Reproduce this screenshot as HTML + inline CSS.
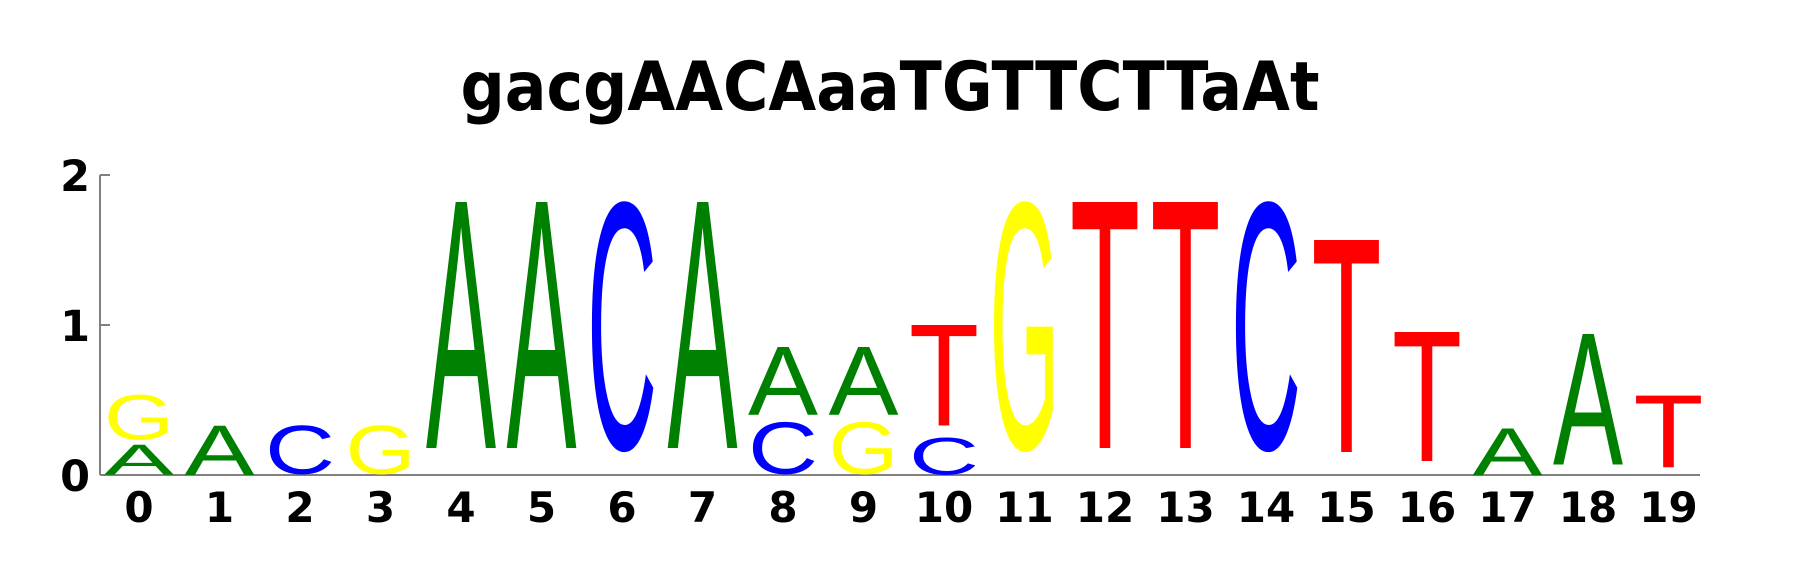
<!DOCTYPE html>
<html><head><meta charset="utf-8"><style>
html,body{margin:0;padding:0;background:#fff;}
svg{display:block;}
</style></head><body>
<svg id="chart" width="1800" height="575" viewBox="0 0 1800 575" xmlns="http://www.w3.org/2000/svg">
<text x="890" y="110" text-anchor="middle" font-family="'DejaVu Sans', 'Liberation Sans', sans-serif" font-weight="bold" font-size="68" textLength="859" lengthAdjust="spacingAndGlyphs">gacgAACAaaTGTTCTTaAt</text>
<g id="axes"></g>
<g id="letters"></g>
</svg>
<script>
const positions = [0,1,2,3,4,5,6,7,8,9,10,11,12,13,14,15,16,17,18,19];
const letterChars = ['A','G','A','C','G','A','A','C','A','C','A','G','A','C','T','G','T','T','C','T','T','A','A','T'];
const letterPos   = [0,0,1,2,3,4,5,6,7,8,8,9,9,10,10,11,12,13,14,15,16,17,18,19];
const letterBottom= [0,0.233,0,0,0,0.18,0.18,0.147,0.18,0,0.4,0,0.4,0,0.33,0.147,0.18,0.18,0.147,0.153,0.093,0,0.07,0.053];
const letterTop   = [0.2,0.533,0.327,0.327,0.327,1.82,1.82,1.82,1.82,0.35,0.85,0.35,0.85,0.25,1.0,1.82,1.82,1.82,1.82,1.567,0.953,0.31,0.94,0.53];
const yTicks = [0,1,2];
const colors = {A:'#008000',C:'#0000ff',G:'#ffff00',T:'#ff0000'};

const NS='http://www.w3.org/2000/svg';
const X = i => 139 + i*80.5;
const Y = v => 475 - v*150;
const axes=document.getElementById('axes');
const lg=document.getElementById('letters');
function mk(tag,attrs,parent){const e=document.createElementNS(NS,tag);for(const k in attrs)e.setAttribute(k,attrs[k]);parent.appendChild(e);return e;}

const ya=mk('line',{x1:100,y1:Y(2),x2:100,y2:Y(0),stroke:'#808080','stroke-width':2},axes);


const xa=mk('line',{x1:100,y1:Y(0),x2:1700,y2:Y(0),stroke:'#808080','stroke-width':2},axes);


yTicks.forEach(t=>{
  const tk=mk('line',{x1:100,y1:Y(t),x2:110,y2:Y(t),stroke:'#808080','stroke-width':2},axes);
  
  
  const tl=mk('text',{x:90,y:Y(t)+16,'text-anchor':'end','font-family':"'DejaVu Sans','Liberation Sans',sans-serif",'font-weight':'bold','font-size':43},axes);
  tl.textContent=String(t);
  
  
});
positions.forEach(p=>{
  const tl=mk('text',{x:X(p),y:522,'text-anchor':'middle','font-family':"'DejaVu Sans','Liberation Sans',sans-serif",'font-weight':'bold','font-size':42},axes);
  tl.textContent=String(p);
  
  
});
const W=70;
letterChars.forEach((ch,i)=>{
  const round = (ch==='C'||ch==='G');
  const CAP = round ? 70.8 : 68.8;
  const base = round ? 1.2 : 0;
  const y0=Y(letterTop[i]), y1=Y(letterBottom[i]);
  const h=y1-y0;
  const cx=X(letterPos[i]);
  const s=h/CAP;
  const g=mk('g',{transform:`translate(${cx-W/2},${y1 - base*s}) scale(1,${s})`},lg);
  const t=mk('text',{x:0,y:0,'font-family':"'Liberation Sans',sans-serif",'font-size':100,fill:colors[ch],textLength:W,lengthAdjust:'spacingAndGlyphs'},g);
  t.textContent=ch;
  
  
});
</script>
</body></html>
